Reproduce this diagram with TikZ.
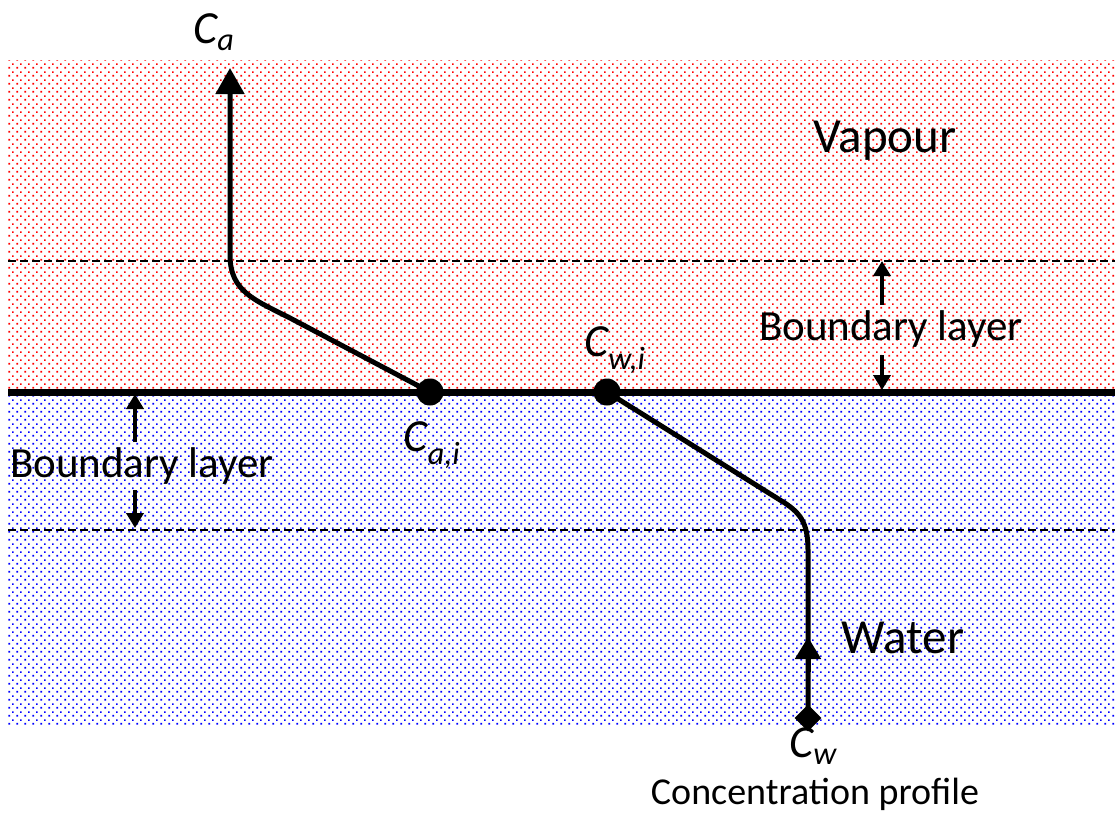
\documentclass[tikz,border=0pt]{standalone}
\usepackage{fontspec}
\setmainfont{Carlito}
\usetikzlibrary{arrows.meta,patterns.meta,shapes.geometric}
\pgfdeclarepattern{name=sdots, type=uncolored,
  bottom left={\pgfpoint{0pt}{0pt}}, top right={\pgfpoint{8pt}{8pt}},
  tile size={\pgfpoint{8pt}{8pt}},
  code={\pgfpathrectangle{\pgfpoint{0.5pt}{0.5pt}}{\pgfpoint{1.9pt}{1.9pt}}%
        \pgfpathrectangle{\pgfpoint{4.5pt}{4.5pt}}{\pgfpoint{1.9pt}{1.9pt}}%
        \pgfusepath{fill}}}
\tikzset{
  prof/.style={line width=5pt, line join=round},
  blarrow/.style={line width=4pt, -{Triangle[length=15pt,width=17pt]}},
  lbl/.style={font=\fontsize{43}{47}\selectfont, inner sep=0pt},
  biglbl/.style={font=\fontsize{49}{53}\selectfont, inner sep=0pt},
  smlbl/.style={font=\fontsize{38}{42}\selectfont, inner sep=0pt},
  clbl/.style={font=\fontsize{46}{50}\selectfont\itshape, inner sep=0pt},
  pdot/.style={circle, fill=black, minimum size=27pt, inner sep=0pt},
  dashline/.style={line width=1.8pt, dash pattern=on 8pt off 4pt},
}
\begin{document}
\begin{tikzpicture}[x=1pt,y=-1pt]
\useasboundingbox (0,0) rectangle (1115,812);
% regions
\fill[pattern=sdots, pattern color=red] (8,60) rectangle (1115,392);
\fill[pattern=sdots, pattern color=blue] (8,392) rectangle (1115,725);
% lines
\coordinate (ltop) at (8,261);
\coordinate (rtop) at (1115,261);
\coordinate (lbot) at (8,530);
\coordinate (rbot) at (1115,530);
\coordinate (lint) at (8,392);
\coordinate (rint) at (1115,392);
\draw[dashline] (ltop) -- (rtop);
\draw[dashline] (lbot) -- (rbot);
\draw[line width=7pt] (lint) -- (rint);
% profile
\coordinate (atop) at (230,68);
\coordinate (abend) at (230,255);
\coordinate (abend2) at (290,318);
\node[pdot] (cai) at (430,392) {};
\node[pdot] (cwi) at (607,392) {};
\coordinate (wbend) at (780,500);
\coordinate (wbend2) at (808,550);
\node[diamond, fill=black, minimum size=27pt, inner sep=0pt] (cwb) at (808,718) {};
\draw[prof, {Triangle[length=26pt,width=28pt]}-] (atop) -- (abend)
   .. controls (230,292) and (255,300) .. (abend2) -- (cai.center);
\draw[prof] (cwi.center) -- (wbend) .. controls (800,512) and (808,522) .. (wbend2) -- (cwb.center);
\coordinate (wa1) at (808,672);
\coordinate (wa2) at (808,637);
\draw[prof, -{Triangle[length=22pt,width=25pt]}] (wa1) -- (wa2);
% boundary layer arrows
\coordinate (rb1) at (882,305);
\coordinate (rb2) at (882,261);
\coordinate (rb3) at (882,355);
\coordinate (rb4) at (882,390);
\draw[blarrow] (rb1) -- (rb2);
\draw[blarrow] (rb3) -- (rb4);
\coordinate (lb1) at (135,442);
\coordinate (lb2) at (135,394);
\coordinate (lb3) at (135,490);
\coordinate (lb4) at (135,528);
\draw[blarrow] (lb1) -- (lb2);
\draw[blarrow] (lb3) -- (lb4);
% labels
\node[clbl] (ca) at (214,32) {C\textsubscript{a}};
\node[clbl] (cail) at (432,445) {C\textsubscript{a,i}};
\node[clbl] (cwil) at (615,350) {C\textsubscript{w,i}};
\node[clbl] (cwl) at (813,746) {C\textsubscript{w}};
\node[smlbl] (conc) at (815,794) {Concentration profile};
\node[biglbl] (vap) at (885,141) {Vapour};
\node[biglbl] (wat) at (903,638) {Water};
\node[lbl] (blr) at (891,329) {Boundary layer};
\node[lbl] (bll) at (142,466) {Boundary layer};
\end{tikzpicture}
\end{document}
